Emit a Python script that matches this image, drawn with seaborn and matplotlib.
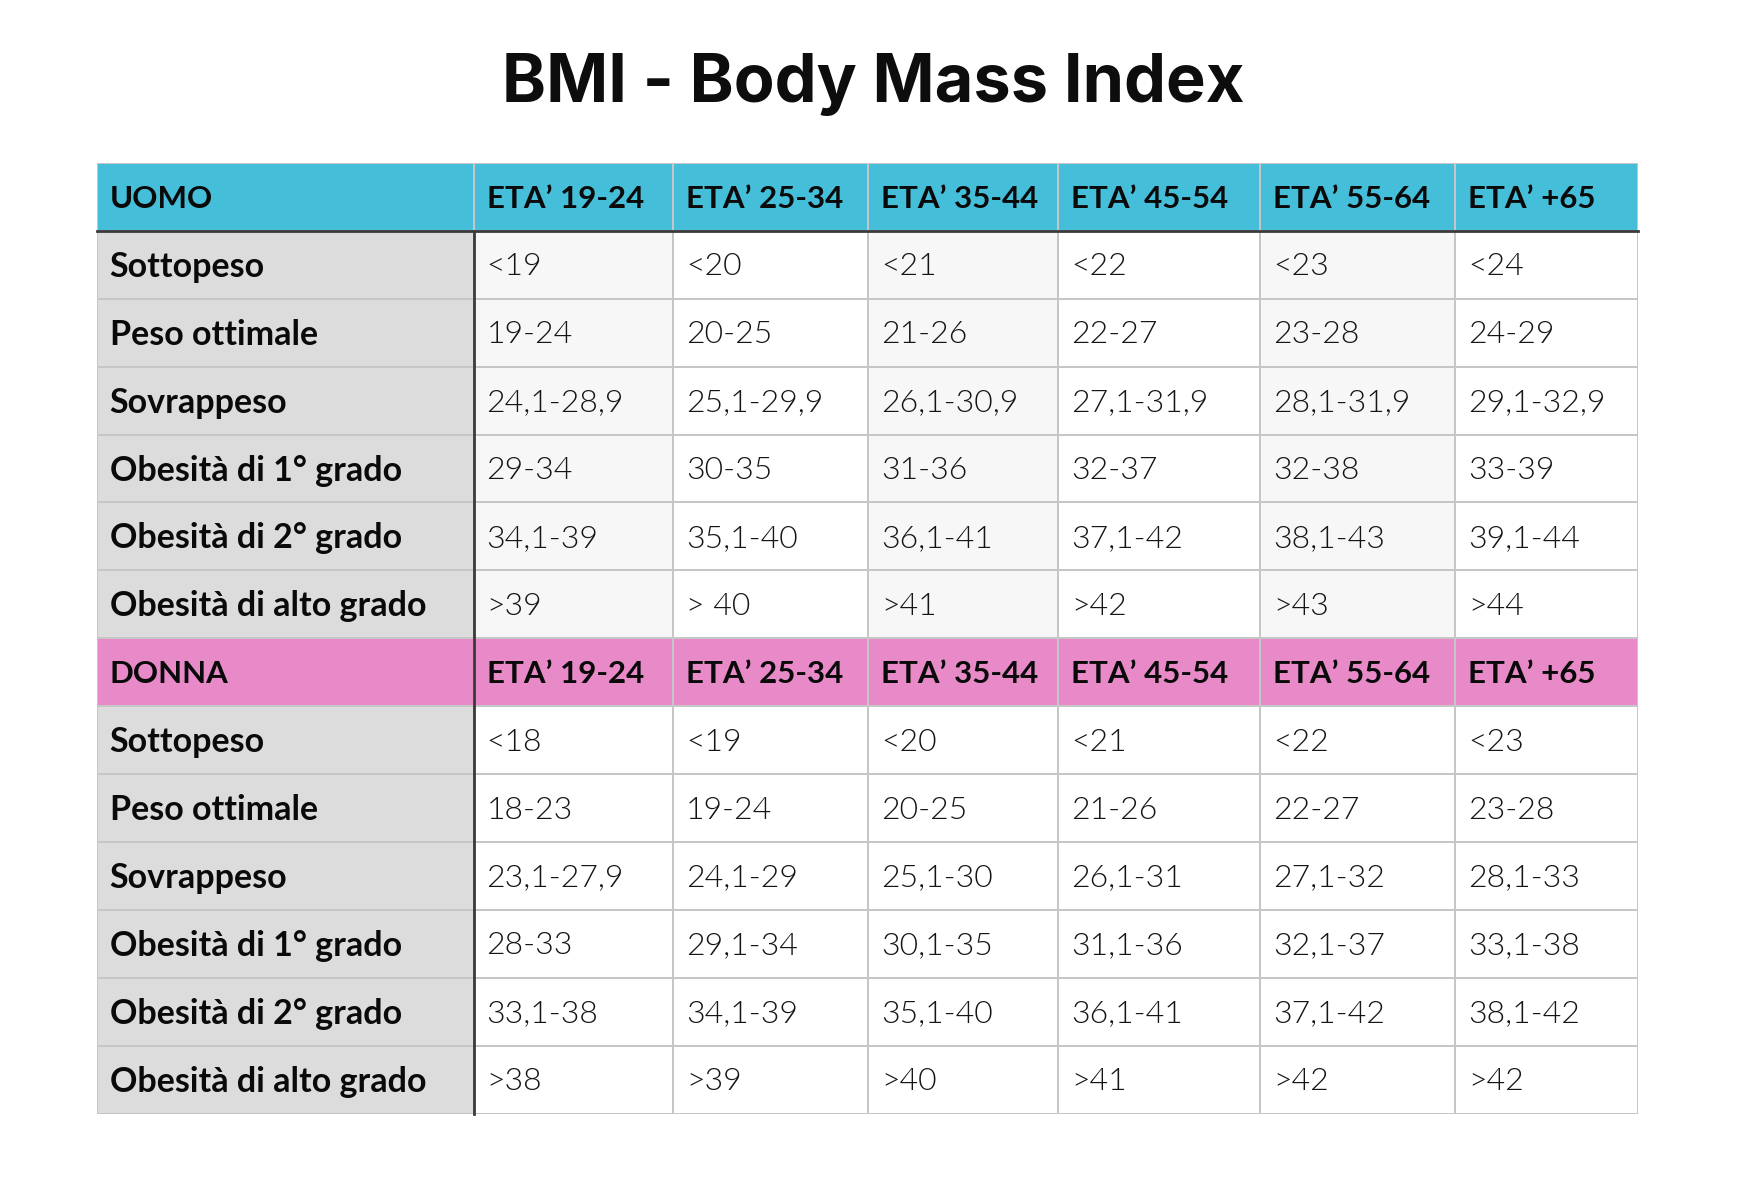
import numpy as np
import pandas as pd
import seaborn as sns
import matplotlib.pyplot as plt
from matplotlib.colors import ListedColormap
from matplotlib.lines import Line2D

# ---------------- data ----------------
title = "BMI - Body Mass Index"
age_headers = ["ETA’ 19-24", "ETA’ 25-34", "ETA’ 35-44", "ETA’ 45-54", "ETA’ 55-64", "ETA’ +65"]
row_labels = ["Sottopeso", "Peso ottimale", "Sovrappeso",
              "Obesità di 1° grado", "Obesità di 2° grado", "Obesità di alto grado"]
uomo_values = [
    ["<19", "<20", "<21", "<22", "<23", "<24"],
    ["19-24", "20-25", "21-26", "22-27", "23-28", "24-29"],
    ["24,1-28,9", "25,1-29,9", "26,1-30,9", "27,1-31,9", "28,1-31,9", "29,1-32,9"],
    ["29-34", "30-35", "31-36", "32-37", "32-38", "33-39"],
    ["34,1-39", "35,1-40", "36,1-41", "37,1-42", "38,1-43", "39,1-44"],
    [">39", "> 40", ">41", ">42", ">43", ">44"],
]
donna_values = [
    ["<18", "<19", "<20", "<21", "<22", "<23"],
    ["18-23", "19-24", "20-25", "21-26", "22-27", "23-28"],
    ["23,1-27,9", "24,1-29", "25,1-30", "26,1-31", "27,1-32", "28,1-33"],
    ["28-33", "29,1-34", "30,1-35", "31,1-36", "32,1-37", "33,1-38"],
    ["33,1-38", "34,1-39", "35,1-40", "36,1-41", "37,1-42", "38,1-42"],
    [">38", ">39", ">40", ">41", ">42", ">42"],
]
sections = ["UOMO", "DONNA"]

# ---------------- table build ----------------
texts = []
codes = []   # 0 white, 1 light grey, 2 label grey, 3 cyan, 4 pink
for s, (name, vals) in enumerate(zip(sections, [uomo_values, donna_values])):
    texts.append([name] + age_headers)
    codes.append([3 + s] * 7)
    for lab, row in zip(row_labels, vals):
        texts.append([lab] + row)
        if s == 0:
            codes.append([2] + [1 if j % 2 == 0 else 0 for j in range(6)])
        else:
            codes.append([2] + [0] * 6)
texts = np.array(texts, dtype=object)
codes = np.array(codes)
header_rows = [0, 7]

cmap = ListedColormap(["#FFFFFF", "#F7F7F7", "#DCDCDC", "#45BEDA", "#E88AC8"])

W, H = 1739, 1187
fig = plt.figure(figsize=(W / 100, H / 100), dpi=100)
fig.patch.set_facecolor("white")

x_edges = [96.5, 473.6, 673.2, 868.4, 1058.1, 1260.0, 1455.2, 1638.0]
y_top, y_bot = 163.0, 1113.5
n_rows = texts.shape[0]
row_h = (y_bot - y_top) / n_rows

FONT = "Lato"
for j in range(7):
    x0, x1 = x_edges[j], x_edges[j + 1]
    ax = fig.add_axes([x0 / W, 1 - y_bot / H, (x1 - x0) / W, (y_bot - y_top) / H])
    df = pd.DataFrame(codes[:, j:j + 1])
    sns.heatmap(df, ax=ax, cmap=cmap, vmin=-0.5, vmax=4.5, cbar=False,
                annot=texts[:, j:j + 1], fmt="", linewidths=1.4, linecolor="#C6C6C6",
                xticklabels=False, yticklabels=False,
                annot_kws={"fontsize": 21, "color": "#111111", "family": FONT})
    ax.set_xlabel("")
    ax.set_ylabel("")
    pad = 13 / (x1 - x0)
    for t in ax.texts:
        tx, ty = t.get_position()
        r = int(ty)
        t.set_ha("left")
        t.set_x(pad)
        t.set_y(ty + 0.03)
        if r in header_rows:
            t.set_fontweight("bold")
            t.set_fontsize(22.5)
            t.set_color("#0a0a0a")
        elif j == 0:
            t.set_fontweight("bold")
            t.set_fontsize(24.5)
            t.set_color("#0a0a0a")
        else:
            t.set_fontweight(300)
            t.set_fontsize(23)
            t.set_color("#151515")

# dark separator lines
fig.add_artist(Line2D([x_edges[0] / W, x_edges[-1] / W],
                      [1 - (y_top + row_h) / H] * 2, color="#3a3a3a", lw=2.0))
fig.add_artist(Line2D([x_edges[1] / W] * 2,
                      [1 - (y_top + row_h) / H, 1 - y_bot / H], color="#3a3a3a", lw=2.0))

fig.text(873 / W, 1 - 84 / H, title, ha="center", va="center",
         fontsize=48, fontweight="bold", family="Inter", color="#0d0d0d")

fig.savefig("out.png", dpi=100, facecolor="white")
